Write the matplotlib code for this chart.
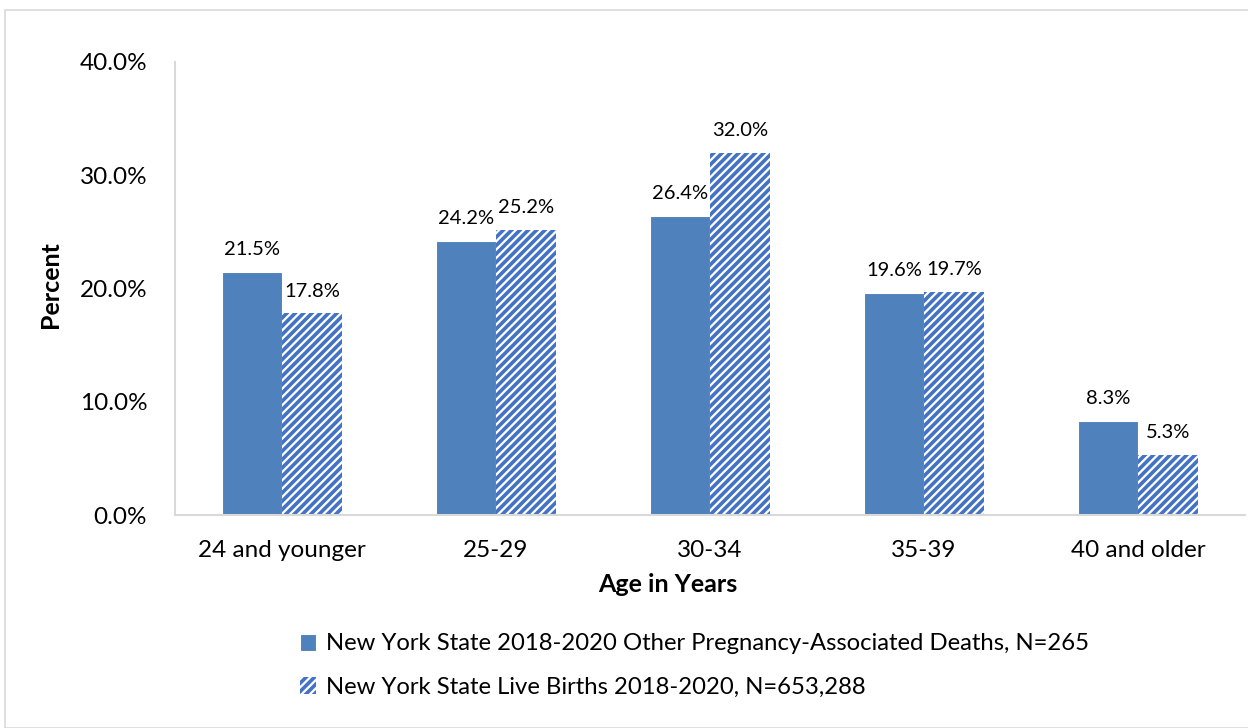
import matplotlib
matplotlib.use("Agg")
import matplotlib.pyplot as plt
import numpy as np
from matplotlib.patches import Rectangle

categories = ["24 and younger", "25-29", "30-34", "35-39", "40 and older"]
deaths = [21.5, 24.2, 26.4, 19.6, 8.3]
births = [17.8, 25.2, 32.0, 19.7, 5.3]
label_deaths = "New York State 2018-2020 Other Pregnancy-Associated Deaths, N=265"
label_births = "New York State Live Births 2018-2020, N=653,288"

plt.rcParams['font.family'] = ['Lato', 'DejaVu Sans']
plt.rcParams['hatch.linewidth'] = 2.6
plt.rcParams['hatch.color'] = '#4472C4'

W, H = 1248, 728
fig = plt.figure(figsize=(W/100, H/100), dpi=100)
fig.patches.append(Rectangle((5/W, 0), 1.1, 1 - 10/H, transform=fig.transFigure,
                             fill=False, edgecolor='#d9d9d9', linewidth=1.2))

ax = fig.add_axes([175/W, 1 - 515/H, 1070/W, (515-62)/H])
x = np.arange(len(categories))
bw = 0.28
b1 = ax.bar(x - bw/2, deaths, bw, color='#4F81BD', edgecolor='white', linewidth=0.8,
            label=label_deaths)
b2 = ax.bar(x + bw/2, births, bw, color='white', edgecolor='#4472C4', linewidth=0,
            hatch='////', label=label_births)

for rect, v in zip(b1, deaths):
    ax.text(rect.get_x() + rect.get_width()/2, v + 1.2, f"{v:.1f}%", ha='center',
            va='bottom', fontsize=14.5)
for rect, v in zip(b2, births):
    ax.text(rect.get_x() + rect.get_width()/2, v + 1.2, f"{v:.1f}%", ha='center',
            va='bottom', fontsize=14.5)

ax.set_xlim(-0.5, len(categories) - 0.5)
ax.set_ylim(0, 40)
ax.set_yticks([0, 10, 20, 30, 40])
ax.set_yticklabels([f"{t:.1f}%" for t in [0, 10, 20, 30, 40]], fontsize=17.5)
ax.set_xticks(x)
ax.set_xticklabels(categories, fontsize=17.5)
ax.tick_params(length=0, pad=10)
ax.tick_params(axis='x', pad=18)
ax.tick_params(axis='y', pad=20)
for s in ['top', 'right']:
    ax.spines[s].set_visible(False)
for s in ['left', 'bottom']:
    ax.spines[s].set_color('#d9d9d9')
    ax.spines[s].set_linewidth(1.5)

fig.text(668/W, 1 - 585/H, "Age in Years", ha='center', va='center', fontsize=18,
         fontweight='bold')
fig.text(50/W, 1 - 285/H, "Percent", ha='center', va='center', rotation=90,
         fontsize=18, fontweight='bold')

leg = fig.legend(handles=[b1, b2], loc='upper left', bbox_to_anchor=(278/W, 1 - 612/H),
                 frameon=False, fontsize=17.2, handlelength=0.7, handleheight=0.7,
                 handletextpad=0.4, labelspacing=0.95)

fig.savefig("out.png", dpi=100)
